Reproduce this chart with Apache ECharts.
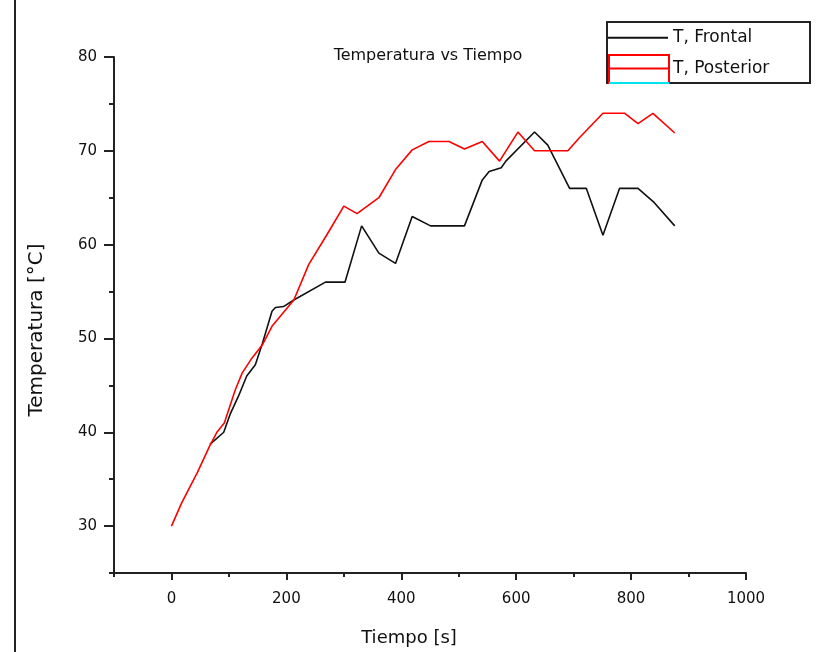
<!DOCTYPE html>
<html>
<head>
<meta charset="utf-8">
<script src="https://cdn.jsdelivr.net/npm/echarts@6/dist/echarts.min.js"></script>
<style>
html,body{margin:0;padding:0;background:#fff;}
#tempChart{width:816px;height:652px;}
</style>
</head>
<body>
<div id="tempChart"></div>
<script>
// datos
var timeFrontal=[67,91,102,117,131,146,158,175,181,195,213,268,302,331,361,390,419,451,510,541,553,574,582,632,655,693,722,751,780,812,840,876]
var tempFrontal=[38.7,40,41.9,43.9,46,47.2,49.4,52.9,53.3,53.4,54.1,56,56,62,59.1,58,63,62,62,66.9,67.8,68.2,68.9,72,70.6,66,66,61,66,66,64.5,62]
var timePosterior=[0,18,45,67,79,92,111,123,140,158,175,213,239,270,300,323,361,390,419,448,483,510,541,571,603,632,690,710,751,789,812,838,876]
var tempPosterior=[30,32.5,35.7,38.6,40,41,44.5,46.3,47.9,49.3,51.3,54.1,57.9,61,64.1,63.3,65,68,70.1,71,71,70.2,71,68.9,72,70,70,71.4,74,74,72.9,74,71.9]
var xMajorTicks=[0,200,400,600,800,1000]
var yMajorTicks=[30,40,50,60,70,80]

function pares(xs,ys){
	var out=[]
	for(var i=0;i<xs.length;i++){
		out.push([xs[i],ys[i]])
	}
	return out
}

var tempChart=echarts.init(document.getElementById('tempChart'))
var fuente='"DejaVu Sans", sans-serif'
var optionTemp={
	animation:false,
	title:{
		text:'Temperatura vs Tiempo',
		left:423,
		top:43,
		textAlign:'center',
		textStyle:{
			color:'#111',
			fontSize:16,
			fontWeight:'normal',
			fontFamily:fuente
		}
	},
	legend:{
		orient:'vertical',
		left:607,
		top:22,
		padding:[7,4,0,0],
		itemWidth:60,
		itemHeight:22,
		itemGap:13,
		itemStyle:{color:'rgba(0,0,0,0)',borderWidth:0},//sin simbolo, solo la linea
		textStyle:{
			color:'#111',
			fontSize:17,
			fontFamily:fuente
		},
		data:['T, Frontal','T, Posterior']
	},
	grid:{
		left:114,
		right:70,
		top:57,
		bottom:78
	},
	xAxis:[
		{
			type:'value',
			min:-100,
			max:1000,
			interval:100,
			name:'Tiempo [s]',
			nameLocation:'middle',
			nameGap:56,
			nameTextStyle:{
				color:'#111',
				fontSize:18,
				fontFamily:fuente,
				padding:[0,42,0,0]
			},
			axisLine:{
				show:true,
				onZero:false,
				lineStyle:{color:'#222',width:2}
			},
			axisTick:{//ticks menores
				show:true,
				length:4,
				lineStyle:{color:'#222',width:2}
			},
			axisLabel:{
				color:'#111',
				fontSize:15,
				fontFamily:fuente,
				margin:19,
				formatter:function(v){
					return (v>=0 && v%200===0) ? String(v) : ''
				}
			},
			splitLine:{show:false}
		},
		{
			type:'value',
			min:-100,
			max:1000,
			position:'bottom',
			axisLine:{show:false,onZero:false},
			axisTick:{//ticks mayores
				show:true,
				length:7,
				customValues:xMajorTicks,
				lineStyle:{color:'#222',width:2}
			},
			axisLabel:{show:false},
			splitLine:{show:false}
		}
	],
	yAxis:[
		{
			type:'value',
			min:25,
			max:80,
			interval:5,
			name:'Temperatura [°C]',
			nameLocation:'middle',
			nameGap:67,
			nameTextStyle:{
				color:'#111',
				fontSize:20,
				fontFamily:fuente,
				padding:[0,30,0,0]
			},
			axisLine:{
				show:true,
				onZero:false,
				lineStyle:{color:'#222',width:2}
			},
			axisTick:{
				show:true,
				length:5,
				lineStyle:{color:'#222',width:2}
			},
			axisLabel:{
				color:'#111',
				fontSize:15,
				fontFamily:fuente,
				margin:17,
				formatter:function(v){
					return v%10===0 ? String(v) : ''
				}
			},
			splitLine:{show:false}
		},
		{
			type:'value',
			min:25,
			max:80,
			position:'left',
			axisLine:{show:false,onZero:false},
			axisTick:{
				show:true,
				length:10,
				customValues:yMajorTicks,
				lineStyle:{color:'#222',width:2}
			},
			axisLabel:{show:false},
			splitLine:{show:false}
		}
	],
	series:[
		{
			name:'T, Frontal',
			type:'line',
			symbol:'none',
			lineStyle:{color:'#111',width:1.6},
			itemStyle:{color:'#111'},
			data:pares(timeFrontal,tempFrontal)
		},
		{
			name:'T, Posterior',
			type:'line',
			symbol:'none',
			lineStyle:{color:'#ff0000',width:1.6},
			itemStyle:{color:'#ff0000'},
			data:pares(timePosterior,tempPosterior)
		}
	],
	graphic:[
		{//borde izquierdo de la pagina
			type:'line',
			shape:{x1:15,y1:0,x2:15,y2:652},
			style:{stroke:'#222',lineWidth:2}
		},
		{//marco de la leyenda
			type:'rect',
			shape:{x:607,y:22,width:203,height:61},
			style:{fill:'none',stroke:'#222',lineWidth:2}
		},
		{//recuadro rojo de la leyenda
			type:'rect',
			shape:{x:609,y:55,width:60,height:28},
			style:{fill:'none',stroke:'#ff0000',lineWidth:2}
		},
		{
			type:'line',
			shape:{x1:609,y1:83,x2:669,y2:83},
			style:{stroke:'#00e5ee',lineWidth:2}
		}
	]
}
tempChart.setOption(optionTemp)
</script>
</body>
</html>
